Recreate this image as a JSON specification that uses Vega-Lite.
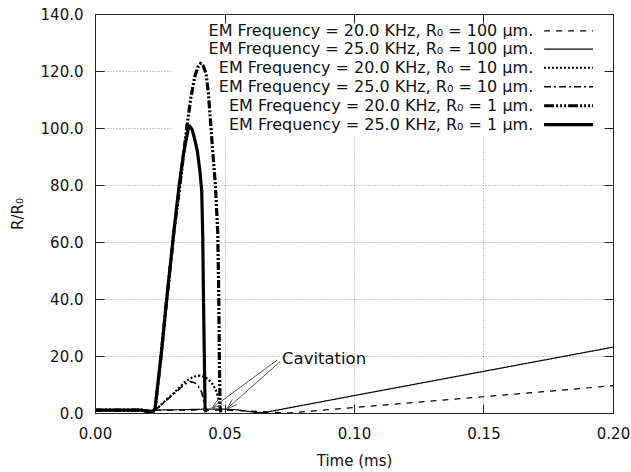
{
  "$schema": "https://vega.github.io/schema/vega-lite/v6.json",
  "width": 518,
  "height": 399,
  "autosize": {"type": "none"},
  "padding": {"left": 95, "top": 14, "right": 18, "bottom": 59},
  "background": "white",
  "config": {
    "font": "DejaVu Sans",
    "view": {"stroke": "#222", "strokeWidth": 1},
    "axis": {"labelFontSize": 15, "titleFontSize": 15, "titleFontWeight": "normal", "labelColor": "#111", "titleColor": "#111", "domainColor": "#222", "tickColor": "#222", "labelFlush": false}
  },
  "resolve": {"axis": {"x": "independent", "y": "independent"}},
  "data": {"values": [{}]},
  "datasets": {
    "curves": [
      {"series": "20 KHz, 100", "t": 0, "r": 1},
      {"series": "20 KHz, 100", "t": 0.02, "r": 1},
      {"series": "20 KHz, 100", "t": 0.03, "r": 1},
      {"series": "20 KHz, 100", "t": 0.04, "r": 1.05},
      {"series": "20 KHz, 100", "t": 0.05, "r": 1.0},
      {"series": "20 KHz, 100", "t": 0.06, "r": 0.7},
      {"series": "20 KHz, 100", "t": 0.068, "r": 0.3},
      {"series": "20 KHz, 100", "t": 0.075, "r": 0.05},
      {"series": "20 KHz, 100", "t": 0.1, "r": 1.9},
      {"series": "20 KHz, 100", "t": 0.125, "r": 3.8},
      {"series": "20 KHz, 100", "t": 0.15, "r": 5.7},
      {"series": "20 KHz, 100", "t": 0.175, "r": 7.6},
      {"series": "20 KHz, 100", "t": 0.2, "r": 9.6},

      {"series": "25 KHz, 100", "t": 0, "r": 1},
      {"series": "25 KHz, 100", "t": 0.02, "r": 1},
      {"series": "25 KHz, 100", "t": 0.03, "r": 1.1},
      {"series": "25 KHz, 100", "t": 0.04, "r": 1.3},
      {"series": "25 KHz, 100", "t": 0.045, "r": 1.4},
      {"series": "25 KHz, 100", "t": 0.05, "r": 1.35},
      {"series": "25 KHz, 100", "t": 0.055, "r": 1.1},
      {"series": "25 KHz, 100", "t": 0.059, "r": 0.6},
      {"series": "25 KHz, 100", "t": 0.062, "r": 0.2},
      {"series": "25 KHz, 100", "t": 0.065, "r": 0.1},
      {"series": "25 KHz, 100", "t": 0.1, "r": 6.1},
      {"series": "25 KHz, 100", "t": 0.15, "r": 14.6},
      {"series": "25 KHz, 100", "t": 0.2, "r": 23.1},

      {"series": "20 KHz, 10", "t": 0, "r": 1},
      {"series": "20 KHz, 10", "t": 0.019, "r": 1},
      {"series": "20 KHz, 10", "t": 0.021, "r": 0.6},
      {"series": "20 KHz, 10", "t": 0.0225, "r": 0.8},
      {"series": "20 KHz, 10", "t": 0.0245, "r": 2},
      {"series": "20 KHz, 10", "t": 0.0277, "r": 4.8},
      {"series": "20 KHz, 10", "t": 0.0302, "r": 6.8},
      {"series": "20 KHz, 10", "t": 0.0325, "r": 8.9},
      {"series": "20 KHz, 10", "t": 0.0345, "r": 10.7},
      {"series": "20 KHz, 10", "t": 0.0365, "r": 12.0},
      {"series": "20 KHz, 10", "t": 0.0385, "r": 12.8},
      {"series": "20 KHz, 10", "t": 0.0405, "r": 13.1},
      {"series": "20 KHz, 10", "t": 0.0425, "r": 12.6},
      {"series": "20 KHz, 10", "t": 0.044, "r": 11.6},
      {"series": "20 KHz, 10", "t": 0.0455, "r": 10.0},
      {"series": "20 KHz, 10", "t": 0.0467, "r": 8.0},
      {"series": "20 KHz, 10", "t": 0.0475, "r": 5.5},
      {"series": "20 KHz, 10", "t": 0.048, "r": 3.0},
      {"series": "20 KHz, 10", "t": 0.0484, "r": 0.5},

      {"series": "25 KHz, 10", "t": 0, "r": 1},
      {"series": "25 KHz, 10", "t": 0.019, "r": 1},
      {"series": "25 KHz, 10", "t": 0.021, "r": 0.6},
      {"series": "25 KHz, 10", "t": 0.0225, "r": 0.8},
      {"series": "25 KHz, 10", "t": 0.0245, "r": 2},
      {"series": "25 KHz, 10", "t": 0.0277, "r": 4.6},
      {"series": "25 KHz, 10", "t": 0.0302, "r": 6.5},
      {"series": "25 KHz, 10", "t": 0.0325, "r": 8.4},
      {"series": "25 KHz, 10", "t": 0.0345, "r": 10.0},
      {"series": "25 KHz, 10", "t": 0.0367, "r": 11.0},
      {"series": "25 KHz, 10", "t": 0.0385, "r": 10.6},
      {"series": "25 KHz, 10", "t": 0.04, "r": 9.2},
      {"series": "25 KHz, 10", "t": 0.0412, "r": 7.2},
      {"series": "25 KHz, 10", "t": 0.042, "r": 4.5},
      {"series": "25 KHz, 10", "t": 0.0425, "r": 2},
      {"series": "25 KHz, 10", "t": 0.0428, "r": 0.3},

      {"series": "20 KHz, 1", "t": 0, "r": 1},
      {"series": "20 KHz, 1", "t": 0.018, "r": 1},
      {"series": "20 KHz, 1", "t": 0.02, "r": 0.5},
      {"series": "20 KHz, 1", "t": 0.0222, "r": 0.3},
      {"series": "20 KHz, 1", "t": 0.0232, "r": 1.5},
      {"series": "20 KHz, 1", "t": 0.0255, "r": 20},
      {"series": "20 KHz, 1", "t": 0.0277, "r": 40},
      {"series": "20 KHz, 1", "t": 0.0305, "r": 64},
      {"series": "20 KHz, 1", "t": 0.0328, "r": 80},
      {"series": "20 KHz, 1", "t": 0.0354, "r": 100},
      {"series": "20 KHz, 1", "t": 0.0369, "r": 110},
      {"series": "20 KHz, 1", "t": 0.0385, "r": 118},
      {"series": "20 KHz, 1", "t": 0.0398, "r": 121.5},
      {"series": "20 KHz, 1", "t": 0.0408, "r": 122.7},
      {"series": "20 KHz, 1", "t": 0.0418, "r": 121.8},
      {"series": "20 KHz, 1", "t": 0.0429, "r": 119},
      {"series": "20 KHz, 1", "t": 0.0438, "r": 112},
      {"series": "20 KHz, 1", "t": 0.0447, "r": 101},
      {"series": "20 KHz, 1", "t": 0.0456, "r": 90},
      {"series": "20 KHz, 1", "t": 0.0465, "r": 80},
      {"series": "20 KHz, 1", "t": 0.0474, "r": 63},
      {"series": "20 KHz, 1", "t": 0.0478, "r": 40},
      {"series": "20 KHz, 1", "t": 0.048, "r": 20},
      {"series": "20 KHz, 1", "t": 0.0483, "r": 2},
      {"series": "20 KHz, 1", "t": 0.0486, "r": 0.3},

      {"series": "25 KHz, 1", "t": 0, "r": 1},
      {"series": "25 KHz, 1", "t": 0.018, "r": 1},
      {"series": "25 KHz, 1", "t": 0.02, "r": 0.5},
      {"series": "25 KHz, 1", "t": 0.0222, "r": 0.3},
      {"series": "25 KHz, 1", "t": 0.0232, "r": 1.5},
      {"series": "25 KHz, 1", "t": 0.0255, "r": 20},
      {"series": "25 KHz, 1", "t": 0.0277, "r": 40},
      {"series": "25 KHz, 1", "t": 0.0305, "r": 64},
      {"series": "25 KHz, 1", "t": 0.0325, "r": 80},
      {"series": "25 KHz, 1", "t": 0.034, "r": 90},
      {"series": "25 KHz, 1", "t": 0.0352, "r": 96},
      {"series": "25 KHz, 1", "t": 0.036, "r": 99.5},
      {"series": "25 KHz, 1", "t": 0.0365, "r": 100.7},
      {"series": "25 KHz, 1", "t": 0.0375, "r": 99.5},
      {"series": "25 KHz, 1", "t": 0.0385, "r": 96},
      {"series": "25 KHz, 1", "t": 0.0395, "r": 92},
      {"series": "25 KHz, 1", "t": 0.0405, "r": 85},
      {"series": "25 KHz, 1", "t": 0.0412, "r": 78},
      {"series": "25 KHz, 1", "t": 0.0416, "r": 62},
      {"series": "25 KHz, 1", "t": 0.0419, "r": 40},
      {"series": "25 KHz, 1", "t": 0.0422, "r": 20},
      {"series": "25 KHz, 1", "t": 0.0425, "r": 2},
      {"series": "25 KHz, 1", "t": 0.0428, "r": 0.3}
    ]
  },
  "layer": [
    {
      "mark": {"type": "rect", "fill": "white", "stroke": null},
      "encoding": {
        "x": {"datum": 0.0297, "type": "quantitative", "scale": {"domain": [0, 0.2], "nice": false, "zero": false},
              "axis": {"orient": "bottom", "grid": true, "gridDash": [1, 2], "gridColor": "#999", "labels": false, "ticks": false, "domain": false, "title": null, "maxExtent": 0, "minExtent": 0, "values": [0.05, 0.1, 0.15], "zindex": 0}},
        "x2": {"datum": 0.1996},
        "y": {"datum": 96.8, "type": "quantitative", "scale": {"domain": [0, 140], "nice": false, "zero": false},
              "axis": {"orient": "left", "grid": true, "gridDash": [1, 2], "gridColor": "#999", "labels": false, "ticks": false, "domain": false, "title": null, "maxExtent": 0, "minExtent": 0, "values": [20, 40, 60, 80, 100, 120], "zindex": 0}},
        "y2": {"datum": 139.8}
      }
    },
    {
      "data": {"name": "curves"},
      "mark": {"type": "line", "color": "black", "clip": true, "strokeCap": "butt", "strokeJoin": "round"},
      "encoding": {
        "x": {"field": "t", "type": "quantitative",
              "axis": {"orient": "bottom", "values": [0, 0.05, 0.1, 0.15, 0.2], "format": ".2f", "grid": false, "tickSize": -9, "labelPadding": 22, "title": "Time (ms)", "titlePadding": 12, "zindex": 1}},
        "y": {"field": "r", "type": "quantitative",
              "axis": {"orient": "left", "values": [0, 20, 40, 60, 80, 100, 120, 140], "format": ".1f", "grid": false, "tickSize": -9, "labelPadding": 21, "title": "R/R₀", "titlePadding": 15, "zindex": 1}},
        "detail": {"field": "series"},
        "strokeDash": {"field": "series", "type": "nominal", "legend": null,
                       "scale": {"domain": ["20 KHz, 100", "25 KHz, 100", "20 KHz, 10", "25 KHz, 10", "20 KHz, 1", "25 KHz, 1"],
                                 "range": [[6, 6], [1, 0], [2, 2], [7, 3, 2, 3], [8, 2, 2, 2, 2, 2], [1, 0]]}},
        "strokeWidth": {"field": "series", "type": "ordinal", "legend": null,
                        "scale": {"type": "ordinal", "domain": ["20 KHz, 100", "25 KHz, 100", "20 KHz, 10", "25 KHz, 10", "20 KHz, 1", "25 KHz, 1"],
                                  "range": [1.2, 1.2, 2.2, 1.6, 3.2, 3.2]}}
      }
    },
    {"mark": {"type": "rule", "color": "#555", "strokeWidth": 1}, "encoding": {"x": {"datum": 0.07039, "type": "quantitative", "axis": null}, "y": {"datum": 18.6, "type": "quantitative", "axis": null}, "x2": {"datum": 0.04506}, "y2": {"datum": 1.65}}},
    {"mark": {"type": "rule", "color": "#555", "strokeWidth": 1}, "encoding": {"x": {"datum": 0.04506, "type": "quantitative", "axis": null}, "y": {"datum": 1.65, "type": "quantitative", "axis": null}, "x2": {"datum": 0.04907}, "y2": {"datum": 2.88}}},
    {"mark": {"type": "rule", "color": "#555", "strokeWidth": 1}, "encoding": {"x": {"datum": 0.04506, "type": "quantitative", "axis": null}, "y": {"datum": 1.65, "type": "quantitative", "axis": null}, "x2": {"datum": 0.04753}, "y2": {"datum": 4.77}}},
    {"mark": {"type": "rule", "color": "#555", "strokeWidth": 1}, "encoding": {"x": {"datum": 0.07143, "type": "quantitative", "axis": null}, "y": {"datum": 18.0, "type": "quantitative", "axis": null}, "x2": {"datum": 0.05085}, "y2": {"datum": 1.4}}},
    {"mark": {"type": "rule", "color": "#555", "strokeWidth": 1}, "encoding": {"x": {"datum": 0.05085, "type": "quantitative", "axis": null}, "y": {"datum": 1.4, "type": "quantitative", "axis": null}, "x2": {"datum": 0.05475}, "y2": {"datum": 2.95}}},
    {"mark": {"type": "rule", "color": "#555", "strokeWidth": 1}, "encoding": {"x": {"datum": 0.05085, "type": "quantitative", "axis": null}, "y": {"datum": 1.4, "type": "quantitative", "axis": null}, "x2": {"datum": 0.05301}, "y2": {"datum": 4.74}}},
    {"mark": {"type": "text", "text": "Cavitation", "align": "left", "baseline": "middle", "fontSize": 16.5, "color": "#111"},
     "encoding": {"x": {"datum": 0.0722, "type": "quantitative", "axis": null}, "y": {"datum": 18.9, "type": "quantitative", "axis": null}}},

    {"mark": {"type": "text", "text": "EM Frequency = 20.0 KHz, R₀ = 100 µm.", "align": "right", "baseline": "middle", "fontSize": 16, "color": "#111"},
     "encoding": {"x": {"datum": 0.1692, "type": "quantitative", "axis": null}, "y": {"datum": 134.1, "type": "quantitative", "axis": null}}},
    {"mark": {"type": "rule", "color": "black", "strokeDash": [6, 6], "strokeWidth": 1.2},
     "encoding": {"x": {"datum": 0.1734, "type": "quantitative", "axis": null}, "x2": {"datum": 0.1923}, "y": {"datum": 134.1, "type": "quantitative", "axis": null}}},
    {"mark": {"type": "text", "text": "EM Frequency = 25.0 KHz, R₀ = 100 µm.", "align": "right", "baseline": "middle", "fontSize": 16, "color": "#111"},
     "encoding": {"x": {"datum": 0.1692, "type": "quantitative", "axis": null}, "y": {"datum": 127.7, "type": "quantitative", "axis": null}}},
    {"mark": {"type": "rule", "color": "black", "strokeWidth": 1.2},
     "encoding": {"x": {"datum": 0.1734, "type": "quantitative", "axis": null}, "x2": {"datum": 0.1923}, "y": {"datum": 127.7, "type": "quantitative", "axis": null}}},
    {"mark": {"type": "text", "text": "EM Frequency = 20.0 KHz, R₀ = 10 µm.", "align": "right", "baseline": "middle", "fontSize": 16, "color": "#111"},
     "encoding": {"x": {"datum": 0.1692, "type": "quantitative", "axis": null}, "y": {"datum": 121.1, "type": "quantitative", "axis": null}}},
    {"mark": {"type": "rule", "color": "black", "strokeDash": [2, 2], "strokeWidth": 2},
     "encoding": {"x": {"datum": 0.1734, "type": "quantitative", "axis": null}, "x2": {"datum": 0.1923}, "y": {"datum": 121.1, "type": "quantitative", "axis": null}}},
    {"mark": {"type": "text", "text": "EM Frequency = 25.0 KHz, R₀ = 10 µm.", "align": "right", "baseline": "middle", "fontSize": 16, "color": "#111"},
     "encoding": {"x": {"datum": 0.1692, "type": "quantitative", "axis": null}, "y": {"datum": 114.5, "type": "quantitative", "axis": null}}},
    {"mark": {"type": "rule", "color": "black", "strokeDash": [7, 3, 2, 3], "strokeWidth": 1.6},
     "encoding": {"x": {"datum": 0.1734, "type": "quantitative", "axis": null}, "x2": {"datum": 0.1923}, "y": {"datum": 114.5, "type": "quantitative", "axis": null}}},
    {"mark": {"type": "text", "text": "EM Frequency = 20.0 KHz, R₀ = 1 µm.", "align": "right", "baseline": "middle", "fontSize": 16, "color": "#111"},
     "encoding": {"x": {"datum": 0.1692, "type": "quantitative", "axis": null}, "y": {"datum": 107.8, "type": "quantitative", "axis": null}}},
    {"mark": {"type": "rule", "color": "black", "strokeDash": [10, 2, 2, 2, 2, 2, 2, 2], "strokeWidth": 3.2},
     "encoding": {"x": {"datum": 0.1734, "type": "quantitative", "axis": null}, "x2": {"datum": 0.1923}, "y": {"datum": 107.8, "type": "quantitative", "axis": null}}},
    {"mark": {"type": "text", "text": "EM Frequency = 25.0 KHz, R₀ = 1 µm.", "align": "right", "baseline": "middle", "fontSize": 16, "color": "#111"},
     "encoding": {"x": {"datum": 0.1692, "type": "quantitative", "axis": null}, "y": {"datum": 101.2, "type": "quantitative", "axis": null}}},
    {"mark": {"type": "rule", "color": "black", "strokeWidth": 3.2},
     "encoding": {"x": {"datum": 0.1734, "type": "quantitative",
                        "axis": {"orient": "top", "values": [0, 0.05, 0.1, 0.15, 0.2], "labels": false, "grid": false, "title": null, "tickSize": -9, "zindex": 1}},
                  "x2": {"datum": 0.1923},
                  "y": {"datum": 101.2, "type": "quantitative",
                        "axis": {"orient": "right", "values": [0, 20, 40, 60, 80, 100, 120, 140], "labels": false, "grid": false, "title": null, "tickSize": -9, "zindex": 1}}}}
  ]
}
